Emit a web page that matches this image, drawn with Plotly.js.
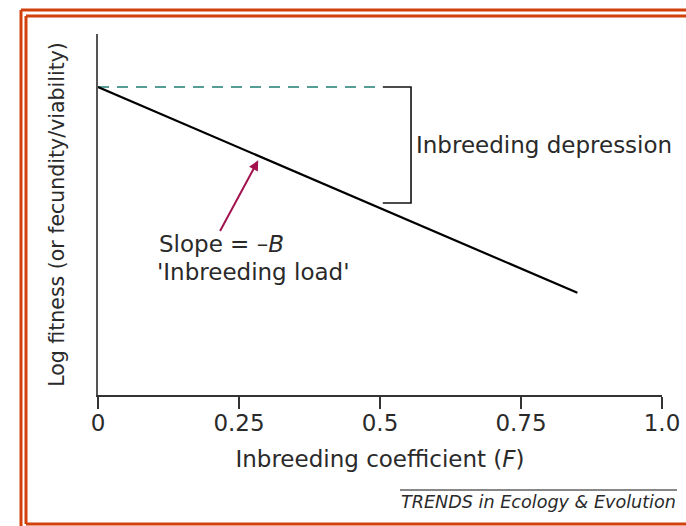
<!DOCTYPE html>
<html>
<head>
<meta charset="utf-8">
<script src="https://cdn.plot.ly/plotly-3.0.1.min.js"></script>
<style>html,body{margin:0;padding:0;background:#fff;}#chart{width:686px;height:526px;}</style>
</head>
<body>
<div id="chart"></div>
<script>
// Inbreeding coefficient F and log fitness (arbitrary units)
var fValues = [0, 0.85];
var logFitness = [8.53, 2.83];
// Reference (outbred) level, dashed
var refF = [0, 0.5];
var refLevel = [8.53, 8.53];
// Bracket marking inbreeding depression at F = 0.5
var bracketF = [0.505, 0.555, 0.555, 0.505];
var bracketLevel = [8.53, 8.53, 5.32, 5.32];
// Axis ticks
var xTickVals = [0, 0.25, 0.5, 0.75, 1.0];
var xTickText = ['0', '0.25', '0.5', '0.75', '1.0'];

var FONT = 'DejaVu Sans, Liberation Sans, Arial, sans-serif';
var TXT = '#2a2a2a';

var traces = [
  {x: refF, y: refLevel, mode: 'lines', line: {color: '#1f7f73', width: 1.6, dash: '11px,8px'}, hoverinfo: 'skip'},
  {x: fValues, y: logFitness, mode: 'lines', line: {color: '#000', width: 2.2}, hoverinfo: 'skip'},
  {x: bracketF, y: bracketLevel, mode: 'lines', line: {color: '#111', width: 1.6}, hoverinfo: 'skip'}
];

// pixel -> paper helpers (plot area: x 98..662, y 34..395)
function px(p){ return (p - 98) / 564; }
function py(p){ return (395 - p) / 361; }
var RED = '#d2400c';
var shapes = [
  // double red frame
  {type:'line', xref:'paper', yref:'paper', x0:px(21), x1:px(21), y0:py(10), y1:py(540), line:{color:RED, width:3}},
  {type:'line', xref:'paper', yref:'paper', x0:px(26), x1:px(26), y0:py(16), y1:py(524), line:{color:RED, width:3}},
  {type:'line', xref:'paper', yref:'paper', x0:px(21), x1:px(700), y0:py(10), y1:py(10), line:{color:RED, width:3}},
  {type:'line', xref:'paper', yref:'paper', x0:px(26), x1:px(700), y0:py(16), y1:py(16), line:{color:RED, width:3}},
  {type:'line', xref:'paper', yref:'paper', x0:px(26), x1:px(700), y0:py(524), y1:py(524), line:{color:RED, width:3}},
  // rule above credit
  {type:'line', xref:'paper', yref:'paper', x0:px(400), x1:px(677), y0:py(490), y1:py(490), line:{color:'#111', width:1}}
];

var annotations = [
  {x: 0.56, y: 6.93, xref:'x', yref:'y', xanchor:'left', yanchor:'middle', showarrow:false,
   text:'Inbreeding depression', font:{family:FONT, size:23, color:TXT}},
  {x: px(157), y: py(244), xref:'paper', yref:'paper', xanchor:'left', yanchor:'middle', showarrow:false,
   text:'Slope = \u2013<i>B</i>', font:{family:FONT, size:23, color:TXT}},
  {x: px(155), y: py(272), xref:'paper', yref:'paper', xanchor:'left', yanchor:'middle', showarrow:false,
   text:"'Inbreeding load'", font:{family:FONT, size:23, color:TXT}},
  {x: 0.284, y: 6.5, ax: 0.215, ay: 4.5, xref:'x', yref:'y', axref:'x', ayref:'y', showarrow:true,
   arrowhead:2, arrowsize:1, arrowwidth:2, arrowcolor:'#a3124f', text:''},
  {x: px(678), y: py(502), xref:'paper', yref:'paper', xanchor:'right', yanchor:'middle', showarrow:false,
   text:'<i>TRENDS in Ecology &amp; Evolution</i>', font:{family:FONT, size:17.6, color:TXT}}
];

var layout = {
  width: 686, height: 526,
  margin: {l: 98, r: 24, t: 34, b: 131},
  paper_bgcolor: '#fff', plot_bgcolor: '#fff',
  showlegend: false,
  xaxis: {
    range: [0, 1], tickvals: xTickVals, ticktext: xTickText,
    showgrid: false, zeroline: false, showline: true, linecolor: '#333', linewidth: 2,
    ticks: 'outside', ticklen: 12, tickwidth: 2, tickcolor: '#333',
    ticklabelstandoff: -6,
    tickfont: {family: FONT, size: 23, color: TXT},
    title: {text: 'Inbreeding coefficient (<i>F</i>)', font: {family: FONT, size: 23, color: TXT}, standoff: 16}
  },
  yaxis: {
    range: [0, 10], showgrid: false, zeroline: false, showline: true, linecolor: '#555', linewidth: 2.5,
    showticklabels: false, ticks: '',
    title: {text: 'Log fitness (or fecundity/viability)', font: {family: FONT, size: 20.5, color: TXT}, standoff: 26}
  },
  shapes: shapes,
  annotations: annotations
};

Plotly.newPlot('chart', traces, layout, {displayModeBar: false, staticPlot: true});
</script>
</body>
</html>
